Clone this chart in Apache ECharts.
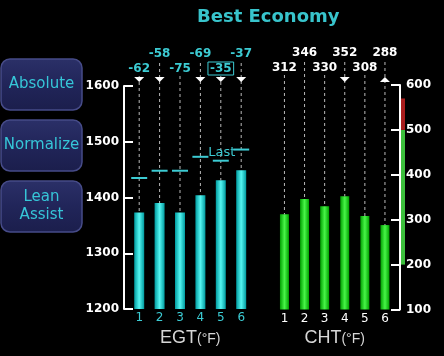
<!DOCTYPE html>
<html><head><meta charset="utf-8">
<script src="https://cdn.jsdelivr.net/npm/echarts@6/dist/echarts.min.js"></script>
<style>html,body{margin:0;padding:0;background:#000;}#c{width:444px;height:356px;}</style>
</head><body><div id="c"></div>
<script>
// ---- data ----
const titleText = 'Best Economy';
const buttons = ['Absolute', 'Normalize', 'Lean\nAssist'];
const cylinders = ['1', '2', '3', '4', '5', '6'];
const egtValues = [1373, 1390, 1373, 1404, 1431, 1449];
const egtPeaks = [1435, 1448, 1448, 1473, 1466, 1486];
const egtDeltas = ['-62', '-58', '-75', '-69', '-35', '-37'];
const egtMarks = ['down', 'down', 'none', 'down', 'down', 'down'];
const egtLastIndex = 4;
const egtBoxedIndex = 4;
const egtRange = [1200, 1600, 100];
const chtValues = [312, 346, 330, 352, 308, 288];
const chtMarks = ['none', 'none', 'none', 'down', 'none', 'up'];
const chtRange = [100, 600, 100];
const chtBands = [[200, 500], [500, 570]];

// ---- style ----
const CYAN = '#3ccbd3';
const FONT = 'DejaVu Sans';
const chart = echarts.init(document.getElementById('c'));

function barGrad(edge, mid) {
  return new echarts.graphic.LinearGradient(0, 0, 1, 0, [
    {offset: 0, color: edge}, {offset: 0.5, color: mid}, {offset: 1, color: edge}]);
}

function triangle(x, yTop, dir, off) {
  const a = yTop - off, b = yTop - off + 5;
  const pts = dir === 'down' ? [[x - 5, a], [x + 5, a], [x, b]] : [[x - 5, b], [x + 5, b], [x, a]];
  return {type: 'polygon', shape: {points: pts}, style: {fill: '#ffffff'}};
}

function makeRender(values, marks, range, peaks, triOff) {
  return function (params, api) {
    const i = api.value(0);
    const pBar = api.coord([i, values[i]]);
    const yTop = api.coord([i, range[1]])[1];
    const x = pBar[0];
    const row = i % 2;
    const children = [{
      type: 'line',
      shape: {x1: x, y1: yTop - (row ? 23 : 10), x2: x, y2: pBar[1]},
      style: {stroke: '#b8b8b8', lineWidth: 1, lineDash: [3, 3]}
    }];
    if (marks[i] !== 'none') children.push(triangle(x, yTop, marks[i], triOff));
    if (peaks) {
      const yP = api.coord([i, peaks[i]])[1];
      children.push({type: 'line', shape: {x1: x - 8, y1: yP, x2: x + 8, y2: yP},
        style: {stroke: CYAN, lineWidth: 2}});
      if (i === egtLastIndex) {
        children.push({type: 'text', x: x + 1, y: yP - 8,
          style: {text: 'Last', fill: CYAN, font: '13px ' + FONT, align: 'center', verticalAlign: 'middle'}});
      }
    }
    return {type: 'group', children};
  };
}

function topAxis(grid, data, odd, color, boxed) {
  return {
    gridIndex: grid, type: 'category', data: data, position: 'top', offset: odd ? 15 : 0,
    axisLine: {show: false}, axisTick: {show: false}, splitLine: {show: false},
    axisLabel: {
      interval: function (idx) { return (idx % 2 === 1) === odd; },
      margin: 11, color: color, fontSize: 12, fontWeight: 'bold', fontFamily: FONT,
      formatter: function (v, idx) { return idx === boxed ? '{box|' + v + '}' : v; },
      rich: {box: {color: color, fontSize: 12, fontWeight: 'bold', fontFamily: FONT,
        borderColor: color, borderWidth: 1, padding: [1, 2, 0, 2]}}
    }
  };
}

function bottomAxis(grid, color, name) {
  return {
    gridIndex: grid, type: 'category', data: cylinders, position: 'bottom',
    axisLine: {show: false}, axisTick: {show: false}, splitLine: {show: false},
    axisLabel: {color: color, fontSize: 12, fontFamily: FONT, margin: 3},
    name: '{a|' + name + '}{b|(°F)}', nameLocation: 'middle', nameGap: 15,
    nameTextStyle: {rich: {
      a: {fontSize: 18, color: '#d6d6d6', fontFamily: 'Liberation Sans', verticalAlign: 'bottom'},
      b: {fontSize: 14, color: '#d6d6d6', fontFamily: 'Liberation Sans', verticalAlign: 'bottom', padding: [0, 0, 1, 0]}
    }}
  };
}

function valueAxis(grid, range, pos) {
  return {
    gridIndex: grid, type: 'value', min: range[0], max: range[1], interval: range[2],
    position: pos, offset: 5,
    axisLine: {show: true, lineStyle: {color: '#ffffff', width: 2}},
    axisTick: {show: true, inside: true, length: 9, lineStyle: {color: '#ffffff', width: 2}},
    axisLabel: {color: '#ffffff', fontSize: 12, fontWeight: 'bold', fontFamily: FONT,
      margin: pos === 'left' ? 5 : 6, formatter: function (v) { return String(v); }},
    splitLine: {show: false}
  };
}

const graphic = [];
buttons.forEach(function (b, k) {
  graphic.push({
    type: 'rect', x: 1, y: 59 + k * 61,
    shape: {x: 0, y: 0, width: 81, height: 51, r: 9},
    style: {
      fill: new echarts.graphic.LinearGradient(0, 0, 0, 1, [
        {offset: 0, color: '#2b3068'}, {offset: 0.5, color: '#212559'}, {offset: 1, color: '#1b1e4c'}]),
      stroke: '#464b88', lineWidth: 1.5
    }
  });
  graphic.push({
    type: 'text', x: 41.5, y: 84.5 + k * 61,
    style: {text: b, fill: '#36c6d8', font: '15px ' + FONT, align: 'center', verticalAlign: 'middle', lineHeight: 18}
  });
});

const option = {
  backgroundColor: '#000000',
  animation: false,
  title: {text: titleText, left: 197, top: 8, padding: 0,
    textStyle: {color: '#38c4cc', fontSize: 18, fontWeight: 'bold', fontFamily: FONT}},
  graphic: graphic,
  grid: [
    {left: 129, top: 86, width: 122.4, height: 223},
    {left: 274.4, top: 85, width: 120.6, height: 224.5},
    {left: 401, top: 85, width: 4, height: 224.5}
  ],
  xAxis: [
    bottomAxis(0, CYAN, 'EGT'),
    topAxis(0, egtDeltas, false, CYAN, egtBoxedIndex),
    topAxis(0, egtDeltas, true, CYAN, egtBoxedIndex),
    bottomAxis(1, '#ffffff', 'CHT'),
    topAxis(1, chtValues.map(String), false, '#ffffff', -1),
    topAxis(1, chtValues.map(String), true, '#ffffff', -1),
    {gridIndex: 2, type: 'category', data: ['band'], show: false}
  ],
  yAxis: [
    valueAxis(0, egtRange, 'left'),
    valueAxis(1, chtRange, 'right'),
    {gridIndex: 2, type: 'value', min: chtRange[0], max: chtRange[1], show: false}
  ],
  series: [
    {type: 'bar', xAxisIndex: 0, yAxisIndex: 0, data: egtValues, barWidth: 10,
      itemStyle: {color: barGrad('#009a9e', '#55f6f2')}, z: 2},
    {type: 'custom', xAxisIndex: 0, yAxisIndex: 0, z: 3,
      data: cylinders.map(function (c, i) { return [i, egtValues[i], egtPeaks[i]]; }),
      encode: {x: 0, y: 1},
      renderItem: makeRender(egtValues, egtMarks, egtRange, egtPeaks, 9)},
    {type: 'bar', xAxisIndex: 3, yAxisIndex: 1, data: chtValues, barWidth: 9,
      itemStyle: {color: barGrad('#00a000', '#48f548')}, z: 2},
    {type: 'custom', xAxisIndex: 3, yAxisIndex: 1, z: 3,
      data: cylinders.map(function (c, i) { return [i, chtValues[i]]; }),
      encode: {x: 0, y: 1},
      renderItem: makeRender(chtValues, chtMarks, chtRange, null, 8)},
    {type: 'custom', xAxisIndex: 6, yAxisIndex: 2,
      data: chtBands.map(function (b) { return [0, b[0], b[1]]; }),
      encode: {x: 0, y: [1, 2]},
      renderItem: function (params, api) {
        const lo = api.coord([0, api.value(1)]);
        const hi = api.coord([0, api.value(2)]);
        const w = api.size([1, 0])[0];
        return {type: 'rect', shape: {x: lo[0] - w / 2, y: hi[1], width: w, height: lo[1] - hi[1]},
          style: {fill: params.dataIndex === 0 ? '#3cc03c' : '#a81c1c'}};
      }}
  ]
};
chart.setOption(option);
</script></body></html>
